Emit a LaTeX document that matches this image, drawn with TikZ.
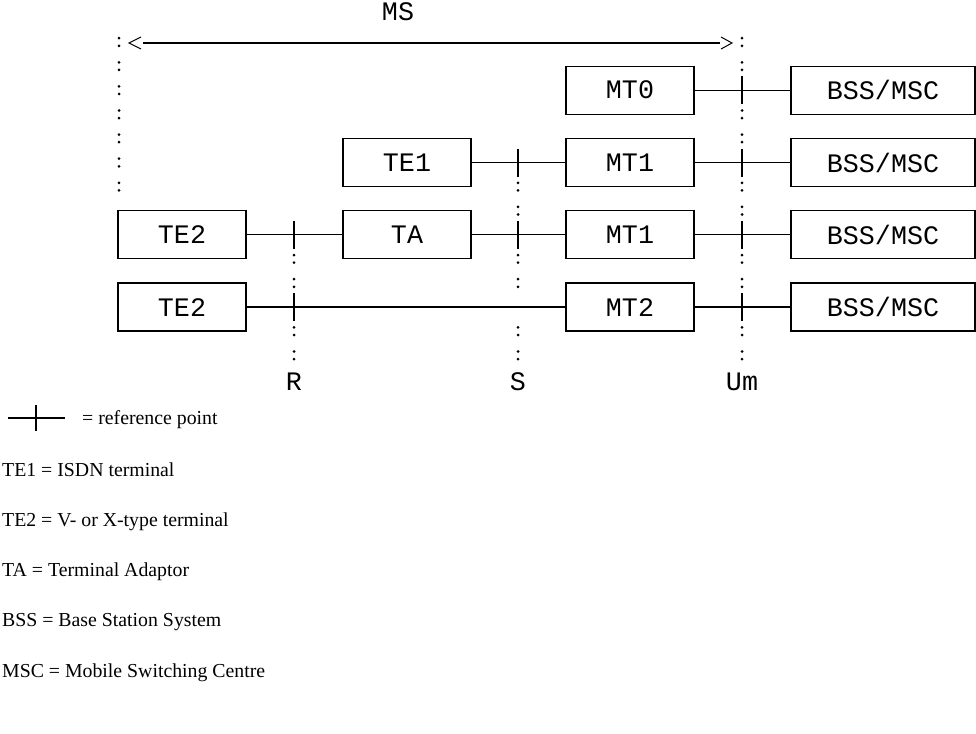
\documentclass[tikz,border=0pt]{standalone}
\usepackage{fontspec}
\setmainfont{Liberation Serif}
\newfontfamily\monof{Liberation Mono}
\begin{document}
\begin{tikzpicture}[x=1pt,y=-1pt,
  box/.style={draw, line width=1.3pt, minimum width=128pt, minimum height=48pt, inner sep=0pt, font=\monof\fontsize{26.7}{30}\selectfont},
  widebox/.style={box, minimum width=184pt},
  conn/.style={line width=1.3pt},
  tickline/.style={line width=1.6pt},
  chev/.style={line width=1pt},
  lbl/.style={font=\monof\fontsize{26.7}{30}\selectfont, inner sep=0pt},
  legend/.style={font=\fontsize{19.8}{23}\selectfont, anchor=base west, inner sep=0pt}]

\useasboundingbox (0,0) rectangle (976,733);

% boxes
\node[box] (mt0) at (630,90.2) {MT0};
\node[widebox] (bss1) at (883,90.2) {BSS/MSC};
\node[box] (te1) at (407,162.5) {TE1};
\node[box] (mt1a) at (630,162.5) {MT1};
\node[widebox] (bss2) at (883,162.5) {BSS/MSC};
\node[box] (te2a) at (182,234.8) {TE2};
\node[box] (ta) at (407,234.8) {TA};
\node[box] (mt1b) at (630,234.8) {MT1};
\node[widebox] (bss3) at (883,234.8) {BSS/MSC};
\node[box] (te2b) at (182,307.1) {TE2};
\node[box] (mt2) at (630,307.1) {MT2};
\node[widebox] (bss4) at (883,307.1) {BSS/MSC};

% connectors
\draw[conn] (mt0.east) -- (bss1.west);
\draw[conn] (te1.east) -- (mt1a.west);
\draw[conn] (mt1a.east) -- (bss2.west);
\draw[conn] (te2a.east) -- (ta.west);
\draw[conn] (ta.east) -- (mt1b.west);
\draw[conn] (mt1b.east) -- (bss3.west);
\draw[conn] (te2b.east) -- (mt2.west);
\draw[conn] (mt2.east) -- (bss4.west);

% reference point ticks
\foreach \x/\k in {742/2,742/5,742/8,742/11,518/5,518/8,294/8,294/11}
  \draw[tickline] (\x,{42+24.1*\k-14}) -- (\x,{42+24.1*\k+14});

% dotted (colon) columns
\foreach \x/\k in {119/0,119/1,119/2,119/3,119/4,119/5,119/6,
                   742/0,742/1,742/3,742/4,742/6,742/7,742/9,742/10,742/12,742/13,
                   518/6,518/7,518/9,518/10,518/12,518/13,
                   294/9,294/10,294/12,294/13}
{
  \fill (\x,{42+24.1*\k-3.8}) circle (1.5pt);
  \fill (\x,{42+24.1*\k+3.8}) circle (1.5pt);
}

% MS arrow
\coordinate (msL) at (129,43);
\coordinate (msR) at (732,43);
\draw[conn] ([xshift=14pt]msL) -- ([xshift=-12pt]msR);
\draw[chev] ([xshift=12pt,yshift=6pt]msL) -- (msL) -- ([xshift=12pt,yshift=-6pt]msL);
\draw[chev] ([xshift=-11pt,yshift=6pt]msR) -- (msR) -- ([xshift=-11pt,yshift=-6pt]msR);
\node[lbl] (ms) at (398,12) {MS};

% column labels
\node[lbl] (lr) at (294,382) {R};
\node[lbl] (ls) at (518,382) {S};
\node[lbl] (lum) at (742,382) {Um};

% legend
\coordinate (lgA) at (8,418);
\coordinate (lgB) at (65,418);
\draw[conn] (lgA) -- (lgB);
\draw[tickline] (36,405) -- (36,431);
\node[legend] (l0) at (82,424.5) {= reference point};
\node[legend] (l1) at (2,476.5) {TE1 = ISDN terminal};
\node[legend] (l2) at (2,526.5) {TE2 = V- or X-type terminal};
\node[legend] (l3) at (2,576.5) {TA = Terminal Adaptor};
\node[legend] (l4) at (2,626.5) {BSS = Base Station System};
\node[legend] (l5) at (2,677.5) {MSC = Mobile Switching Centre};
\end{tikzpicture}
\end{document}
